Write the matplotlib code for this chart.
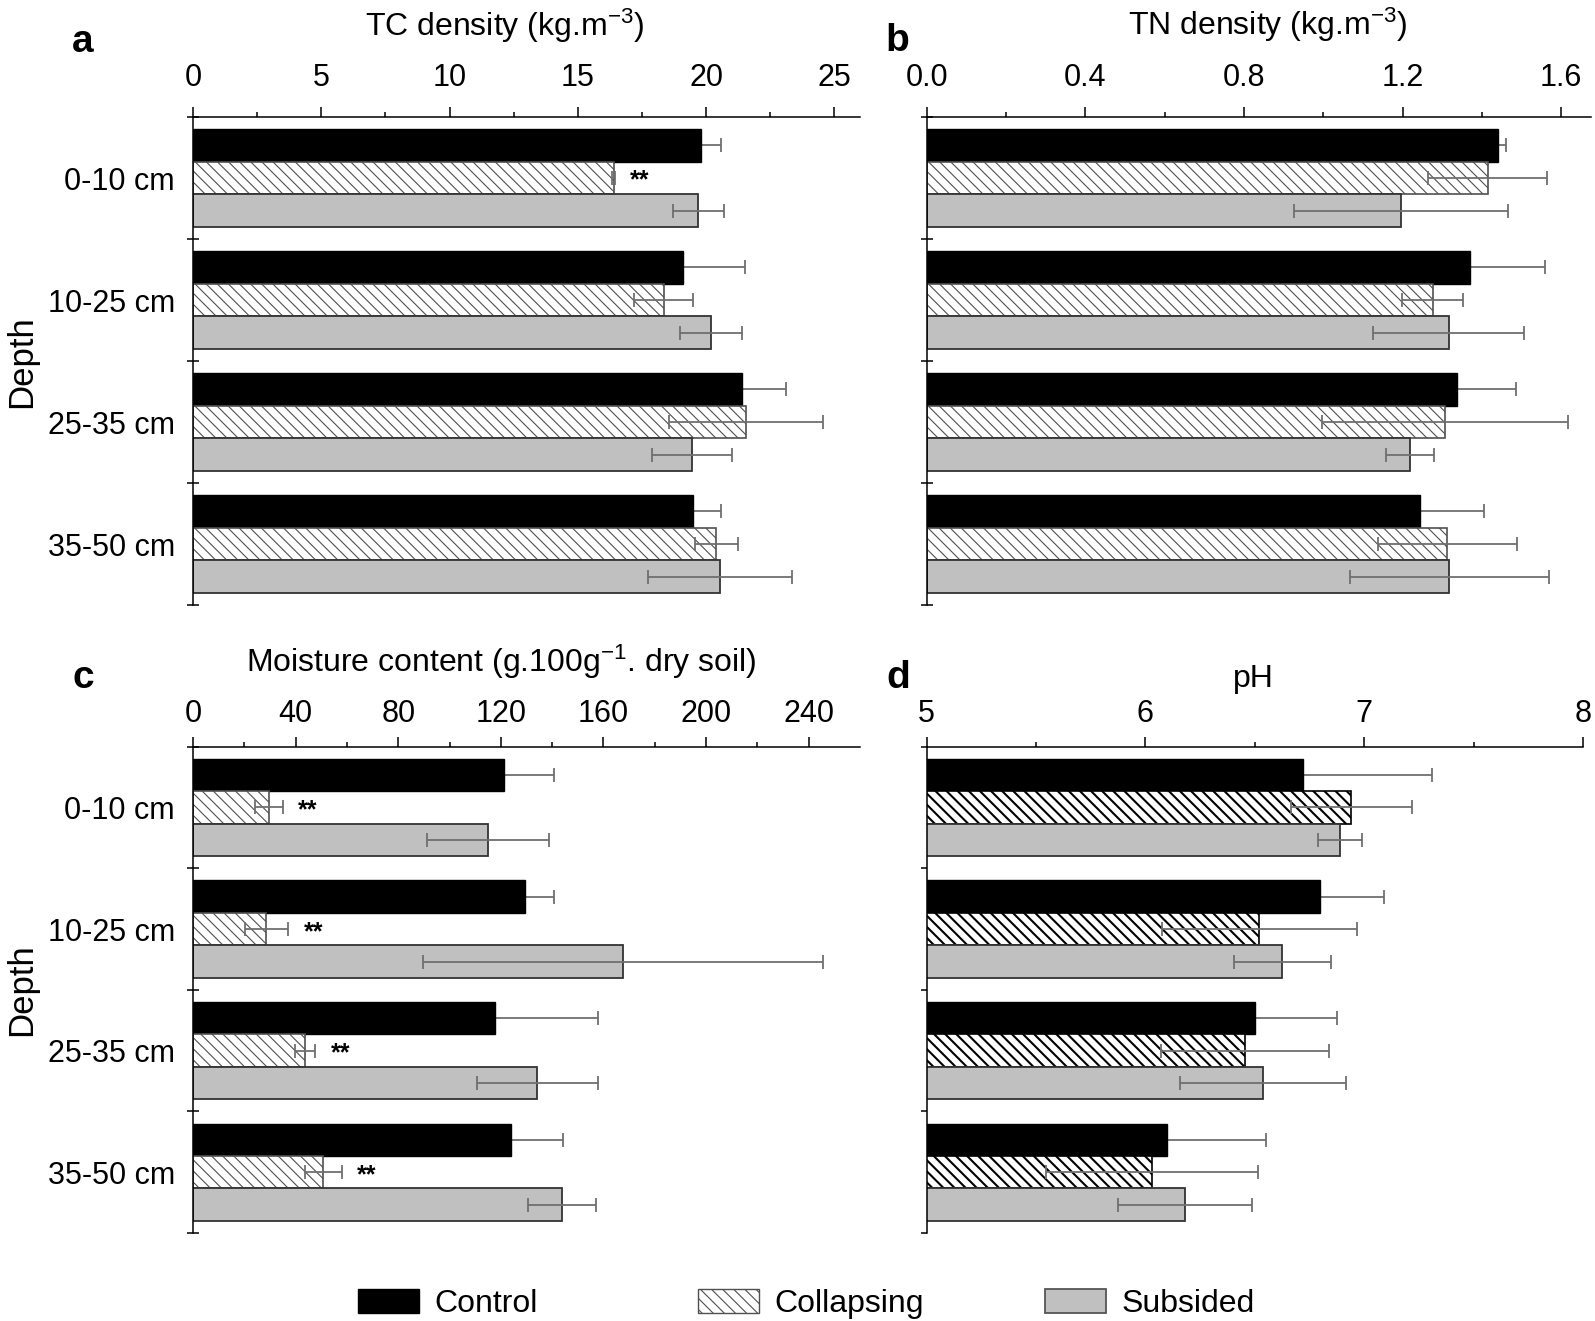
import numpy as np
import matplotlib
matplotlib.use("Agg")
import matplotlib.pyplot as plt
from matplotlib.patches import Patch
from matplotlib.ticker import FixedLocator, FormatStrFormatter

plt.rcParams['font.family'] = ['Liberation Sans', 'DejaVu Sans']
plt.rcParams['mathtext.fontset'] = 'custom'
plt.rcParams['mathtext.rm'] = 'Liberation Sans'
plt.rcParams['mathtext.it'] = 'Liberation Sans'
plt.rcParams['hatch.linewidth'] = 0.8

# Data
depths = ['0-10 cm', '10-25 cm', '25-35 cm', '35-50 cm']
treatments = ['Control', 'Collapsing', 'Subsided']

tc_control = [19.8, 19.1, 21.4, 19.5]
tc_control_err = [0.8, 2.4, 1.7, 1.1]
tc_collapsing = [16.4, 18.35, 21.55, 20.4]
tc_collapsing_err = [0.05, 1.15, 3.0, 0.85]
tc_subsided = [19.7, 20.2, 19.45, 20.55]
tc_subsided_err = [1.0, 1.2, 1.55, 2.8]
tc_sig = ['**', '', '', '']

tn_control = [1.44, 1.37, 1.336, 1.244]
tn_control_err = [0.02, 0.19, 0.15, 0.16]
tn_collapsing = [1.415, 1.276, 1.306, 1.313]
tn_collapsing_err = [0.15, 0.077, 0.31, 0.175]
tn_subsided = [1.195, 1.316, 1.219, 1.318]
tn_subsided_err = [0.27, 0.19, 0.06, 0.25]
tn_sig = ['', '', '', '']

moist_control = [121.3, 129.3, 117.9, 123.9]
moist_control_err = [19.5, 11.5, 40.0, 20.2]
moist_collapsing = [29.6, 28.6, 43.7, 50.8]
moist_collapsing_err = [5.5, 8.5, 4.0, 7.3]
moist_subsided = [115.0, 167.5, 134.2, 143.7]
moist_subsided_err = [23.8, 78.0, 23.6, 13.3]
moist_sig = ['**', '**', '**', '**']

ph_control = [6.72, 6.80, 6.50, 6.10]
ph_control_err = [0.59, 0.29, 0.375, 0.453]
ph_collapsing = [6.94, 6.52, 6.455, 6.03]
ph_collapsing_err = [0.277, 0.446, 0.385, 0.485]
ph_subsided = [6.89, 6.625, 6.538, 6.181]
ph_subsided_err = [0.10, 0.222, 0.38, 0.305]
ph_sig = ['', '', '', '']

W, H = 1595, 1321
fig = plt.figure(figsize=(W / 100, H / 100), dpi=100)


def fx(px):
    return px / W


def fy(py):
    return 1 - py / H


def draw_panel(ax, series, sig, xlim, major, minor, fmt, hatch_col, hatch_lw,
               ytick_dir, show_labels, xpad):
    y = np.arange(len(depths))
    h = 0.267
    ctrl, ctrl_err, coll, coll_err, subs, subs_err = series

    ax.barh(y - h, ctrl, height=h, color='black', edgecolor='black',
            linewidth=1.0, zorder=2)
    with plt.rc_context({'hatch.linewidth': hatch_lw}):
        bars = ax.barh(y, coll, height=h, color='white', edgecolor=hatch_col,
                       hatch='\\\\\\', linewidth=1.2, zorder=2)
    for b in bars:
        if hasattr(b, 'set_hatch_linewidth'):
            b.set_hatch_linewidth(hatch_lw)
    ax.barh(y + h, subs, height=h, color='#c0c0c0', edgecolor='#333333',
            linewidth=1.3, zorder=2)

    ekw = dict(fmt='none', ecolor='#6f6f6f', elinewidth=1.3, capsize=5,
               capthick=1.3)
    ax.errorbar(ctrl, y - h, xerr=ctrl_err, zorder=1, **ekw)
    ax.errorbar(coll, y, xerr=coll_err, zorder=3, **ekw)
    ax.errorbar(subs, y + h, xerr=subs_err, zorder=3, **ekw)

    for i, s in enumerate(sig):
        if s:
            ax.annotate(s, xy=(coll[i] + coll_err[i], y[i]), xytext=(18, -2),
                        textcoords='offset points', ha='center', va='center',
                        fontsize=18, fontweight='bold')

    ax.set_xlim(*xlim)
    ax.set_ylim(len(depths) - 0.5, -0.5)
    ax.xaxis.tick_top()
    ax.xaxis.set_major_locator(FixedLocator(major))
    ax.xaxis.set_minor_locator(FixedLocator(minor))
    ax.xaxis.set_major_formatter(FormatStrFormatter(fmt))
    ax.tick_params(axis='x', which='major', direction='out', length=7.5,
                   width=1.1, pad=xpad, labelsize=22)
    ax.tick_params(axis='x', which='minor', direction='out', length=3.8,
                   width=1.1)

    ax.set_yticks(y)
    ax.set_yticklabels(depths if show_labels else [])
    ax.yaxis.set_minor_locator(FixedLocator(np.arange(-0.5, len(depths), 1.0)))
    ax.tick_params(axis='y', which='major', length=0, pad=13, labelsize=22)
    ax.tick_params(axis='y', which='minor', direction=ytick_dir,
                   length=8 if ytick_dir == 'inout' else 4, width=1.1)

    for side in ('right', 'bottom'):
        ax.spines[side].set_visible(False)
    for side in ('left', 'top'):
        ax.spines[side].set_linewidth(1.1)


left_a, right_a = fx(193), fx(860)
left_b, right_b = fx(926.7), fx(1591)
right_d = fx(1583)
top1, bot1 = fy(117), fy(605)
top2, bot2 = fy(746.7), fy(1233)

ax_a = fig.add_axes([left_a, bot1, right_a - left_a, top1 - bot1])
ax_b = fig.add_axes([left_b, bot1, right_b - left_b, top1 - bot1])
ax_c = fig.add_axes([left_a, bot2, right_a - left_a, top2 - bot2])
ax_d = fig.add_axes([left_b, bot2, right_d - left_b, top2 - bot2])

draw_panel(ax_a, (tc_control, tc_control_err, tc_collapsing, tc_collapsing_err,
                  tc_subsided, tc_subsided_err), tc_sig,
           (0, 26), np.arange(0, 26, 5), np.arange(2.5, 26, 5), '%g',
           '#505050', 0.8, 'inout', True, 10)
draw_panel(ax_b, (tn_control, tn_control_err, tn_collapsing, tn_collapsing_err,
                  tn_subsided, tn_subsided_err), tn_sig,
           (0, 1.675), [0, 0.4, 0.8, 1.2, 1.6], [0.2, 0.6, 1.0, 1.4], '%.1f',
           '#505050', 0.8, 'inout', False, 10)
draw_panel(ax_c, (moist_control, moist_control_err, moist_collapsing,
                  moist_collapsing_err, moist_subsided, moist_subsided_err),
           moist_sig, (0, 260), np.arange(0, 241, 40), np.arange(20, 260, 40),
           '%g', '#505050', 0.8, 'inout', True, 5)
draw_panel(ax_d, (ph_control, ph_control_err, ph_collapsing, ph_collapsing_err,
                  ph_subsided, ph_subsided_err), ph_sig,
           (5, 8), [5, 6, 7, 8], [5.5, 6.5, 7.5], '%g',
           'black', 1.5, 'out', False, 5)

# axis titles on top
fig.text(fx(505), fy(36), 'TC density (kg.m$^{-3}$)', ha='center',
         va='baseline', fontsize=23)
fig.text(fx(1268), fy(35), 'TN density (kg.m$^{-3}$)', ha='center',
         va='baseline', fontsize=23)
fig.text(fx(501), fy(672), 'Moisture content (g.100g$^{-1}$. dry soil)',
         ha='center', va='baseline', fontsize=23)
fig.text(fx(1253), fy(687), 'pH', ha='center', va='baseline', fontsize=23)

# panel letters
for letter, x, yb in [('a', 72, 52), ('b', 885, 51), ('c', 72, 688),
                      ('d', 886, 688)]:
    fig.text(fx(x), fy(yb), letter, ha='left', va='baseline', fontsize=28,
             fontweight='bold')

fig.text(fx(22), fy(362), 'Depth', rotation=90, ha='center', va='center',
         fontsize=25)
fig.text(fx(22), fy(990), 'Depth', rotation=90, ha='center', va='center',
         fontsize=25)

# legend, one entry each to get the spacing of the original
handles = [
    Patch(facecolor='black', edgecolor='black', label=treatments[0]),
    Patch(facecolor='white', edgecolor='#505050', hatch='\\\\\\',
          label=treatments[1]),
    Patch(facecolor='#c0c0c0', edgecolor='#555555', linewidth=1.3,
          label=treatments[2]),
]
for hdl, xpx in zip(handles, [358, 698, 1045]):
    fig.legend(handles=[hdl], loc='center left',
               bbox_to_anchor=(fx(xpx), fy(1304)), frameon=False,
               fontsize=23, handlelength=1.9, handleheight=0.8,
               handletextpad=0.5, borderpad=0, borderaxespad=0)

fig.savefig('out.png', dpi=100)
